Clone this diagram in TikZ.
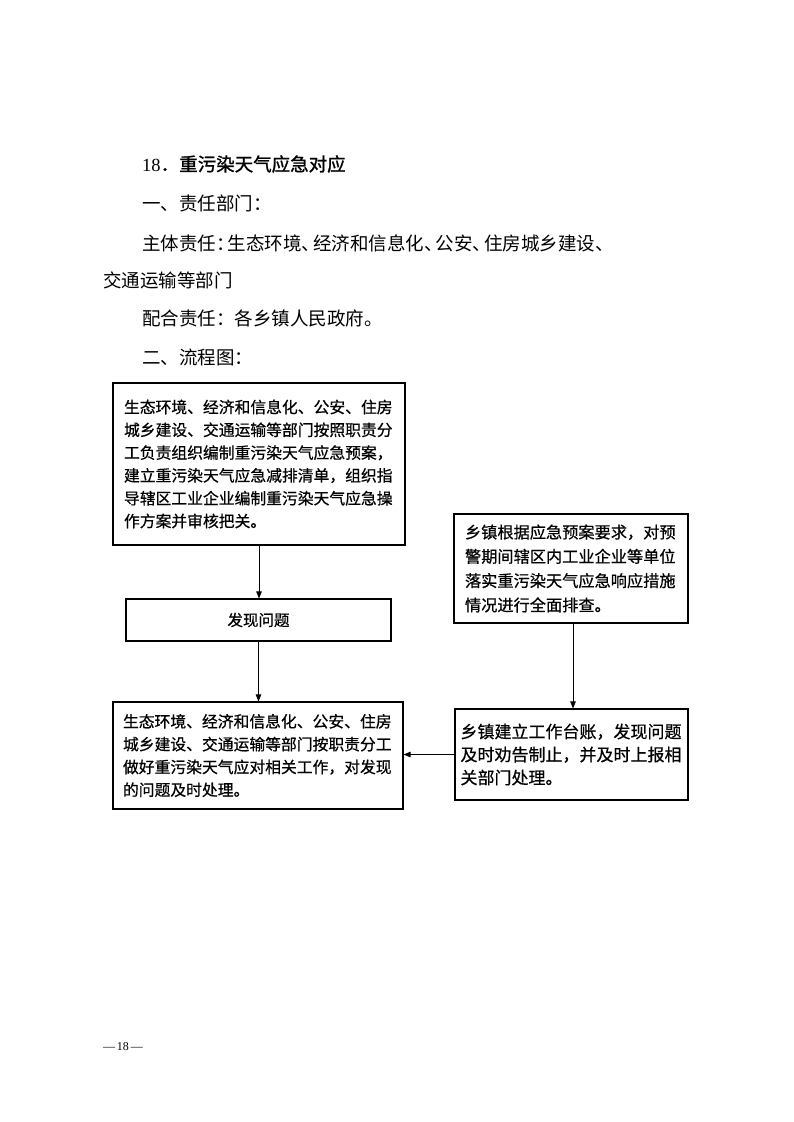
\documentclass[tikz,border=0pt]{standalone}
\usepackage{fontspec}
\setmainfont{Liberation Serif}
\newfontfamily\cjk{Noto Sans CJK SC}
\newfontfamily\cjkhead[FakeBold=1.2]{Noto Sans CJK SC}
\newfontfamily\cjkbox[FakeBold=0.6]{Noto Sans CJK SC}
\usetikzlibrary{arrows.meta}
\tikzset{
  body/.style={anchor=west, inner sep=0pt, font=\cjk\fontsize{18.5}{22}\selectfont},
  box/.style={draw, line width=1.1pt, align=left, inner ysep=0pt},
  flow/.style={line width=0.7pt, -{Triangle[length=7pt,width=5.5pt]}},
}
\newcommand\halfp[1]{\makebox[0.62em][l]{#1}}
\begin{document}
\begin{tikzpicture}[x=1pt,y=-1pt]
\fill[white] (0,0) rectangle (794,1122);
\useasboundingbox (0,0) rectangle (794,1122);
% header text
\node[body, font=\cjkhead\fontsize{18.5}{22}\selectfont] (h) at (142,164) {{\rmfamily 18}．重污染天气应急对应};
\node[body] (t1) at (142,203) {一、责任部门：};
\node[body] (t2) at (142,243) {主体责任\halfp{：}生态环境\halfp{、}经济和信息化\halfp{、}公安\halfp{、}住房城乡建设\halfp{、}};
\node[body] (t3) at (103,280) {交通运输等部门};
\node[body] (t4) at (142,318) {配合责任：各乡镇人民政府。};
\node[body] (t5) at (142,357) {二、流程图：};
% boxes
\node[box, font=\cjkbox\fontsize{15.8}{22.8}\selectfont, text width=270pt, inner xsep=11pt, minimum height=162pt] (a) at (259,464)
  {生态环境、经济和信息化、公安、住房\\城乡建设、交通运输等部门按照职责分\\工负责组织编制重污染天气应急预案，\\建立重污染天气应急减排清单，组织指\\导辖区工业企业编制重污染天气应急操\\作方案并审核把关。};
\node[box, font=\cjkbox\fontsize{15.5}{20}\selectfont, align=center, minimum width=265pt, minimum height=42pt] (b) at (258.5,620) {发现问题};
\node[box, font=\cjkbox\fontsize{15.8}{22.8}\selectfont, text width=270pt, inner xsep=10pt, minimum height=107pt] (c) at (258,755.5)
  {生态环境、经济和信息化、公安、住房\\城乡建设、交通运输等部门按职责分工\\做好重污染天气应对相关工作，对发现\\的问题及时处理。};
\node[box, font=\cjkbox\fontsize{16.2}{24.3}\selectfont, text width=212pt, inner xsep=11pt, minimum height=109pt] (d) at (571,568.5)
  {乡镇根据应急预案要求，对预\\警期间辖区内工业企业等单位\\落实重污染天气应急响应措施\\情况进行全面排查。};
\node[box, font=\cjkbox\fontsize{17}{23}\selectfont, text width=222pt, inner xsep=5.5pt, minimum height=91pt] (e) at (571.5,754.5)
  {乡镇建立工作台账，发现问题\\及时劝告制止，并及时上报相\\关部门处理。};
% connectors
\draw[flow] (a.south) -- (a.south |- b.north);
\draw[flow] (b.south) -- (b.south |- c.north);
\draw[flow] ([xshift=2pt]d.south) -- ([xshift=2pt]d.south |- e.north);
\draw[flow] (e.west) -- (e.west -| c.east);
% page number
\node[inner sep=0pt, font=\fontsize{12}{14}\selectfont] (pg) at (123,1047) {—\,18\,—};
\end{tikzpicture}
\end{document}
